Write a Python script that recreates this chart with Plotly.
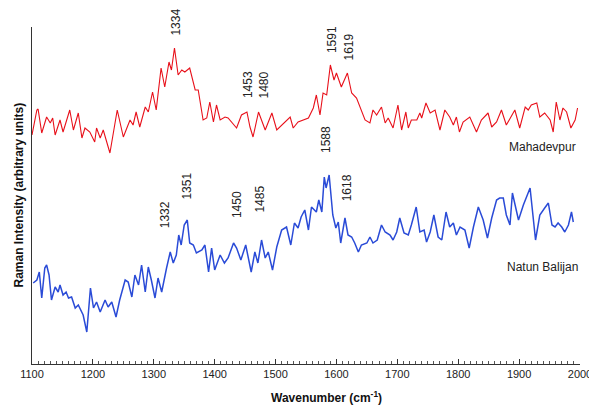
import plotly.graph_objects as go

# ---- Data (intensity in arbitrary units) ----
red_wn = [1100, 1108, 1110, 1116, 1124, 1130, 1134, 1138, 1146, 1151, 1162, 1168, 1176, 1182, 1187,
          1195, 1203, 1206, 1212, 1217, 1228, 1240, 1250, 1261, 1266, 1271, 1277, 1286, 1291, 1298,
          1304, 1312, 1318, 1325, 1329, 1334, 1340, 1346, 1351, 1359, 1368, 1373, 1381, 1387, 1392,
          1398, 1403, 1409, 1417, 1422, 1436, 1444, 1453, 1458, 1463, 1472, 1483, 1494, 1502, 1510,
          1524, 1529, 1537, 1554, 1562, 1567, 1573, 1578, 1584, 1590, 1596, 1600, 1608, 1618, 1625,
          1633, 1639, 1647, 1655, 1660, 1666, 1674, 1680, 1685, 1693, 1701, 1707, 1714, 1718, 1723,
          1732, 1737, 1740, 1747, 1754, 1762, 1770, 1778, 1786, 1792, 1797, 1802, 1808, 1819, 1830,
          1838, 1849, 1855, 1863, 1871, 1879, 1893, 1901, 1910, 1915, 1920, 1929, 1934, 1942, 1951,
          1956, 1961, 1967, 1972, 1978, 1985, 1992, 1996]
red_int = [229, 254, 255, 231, 247, 241, 246, 229, 244, 232, 254, 234, 251, 226, 236,
           232, 222, 236, 226, 234, 211, 254, 227, 244, 239, 252, 237, 257, 252, 272,
           254, 296, 277, 302, 294, 316, 289, 294, 292, 296, 274, 274, 244, 246, 262,
           242, 259, 244, 247, 246, 236, 249, 252, 237, 227, 252, 234, 251, 234, 239,
           247, 236, 242, 246, 256, 269, 249, 271, 269, 299, 284, 291, 277, 291, 271,
           266, 257, 244, 241, 254, 249, 257, 241, 246, 236, 259, 234, 252, 236, 244,
           244, 251, 246, 261, 251, 254, 234, 254, 247, 239, 247, 232, 242, 247, 232,
           244, 251, 237, 242, 254, 239, 254, 236, 257, 254, 259, 261, 247, 251, 244,
           232, 262, 244, 256, 252, 236, 244, 256]

blue_wn = [1102, 1108, 1112, 1116, 1121, 1124, 1128, 1132, 1138, 1143, 1146, 1151, 1156, 1160, 1165,
           1171, 1176, 1184, 1190, 1196, 1201, 1206, 1212, 1220, 1225, 1231, 1238, 1244, 1253, 1258,
           1264, 1269, 1275, 1280, 1286, 1291, 1296, 1302, 1307, 1313, 1321, 1327, 1332, 1337, 1341,
           1345, 1350, 1355, 1359, 1365, 1370, 1379, 1384, 1390, 1395, 1400, 1409, 1416, 1422, 1431,
           1436, 1443, 1451, 1460, 1466, 1471, 1477, 1483, 1488, 1495, 1502, 1510, 1518, 1525, 1531,
           1537, 1542, 1548, 1554, 1559, 1567, 1571, 1576, 1580, 1583, 1588, 1594, 1599, 1603, 1607,
           1614, 1619, 1625, 1630, 1636, 1641, 1650, 1655, 1660, 1667, 1674, 1680, 1688, 1693, 1699,
           1704, 1711, 1718, 1723, 1731, 1737, 1744, 1748, 1754, 1760, 1767, 1773, 1780, 1786, 1792,
           1797, 1803, 1811, 1818, 1825, 1833, 1841, 1848, 1855, 1863, 1868, 1874, 1879, 1885, 1889,
           1899, 1907, 1918, 1927, 1934, 1942, 1948, 1954, 1959, 1964, 1970, 1975, 1981, 1986, 1989]
blue_int = [81, 84, 92, 66, 96, 99, 89, 64, 77, 72, 79, 69, 72, 66, 67,
            56, 59, 49, 32, 76, 56, 62, 52, 64, 57, 62, 47, 64, 84, 82,
            67, 89, 79, 99, 72, 97, 84, 66, 86, 72, 96, 112, 101, 109, 129,
            119, 139, 144, 121, 119, 111, 114, 119, 92, 116, 94, 109, 101, 106, 121,
            116, 104, 119, 92, 112, 101, 124, 106, 112, 94, 117, 134, 137, 119, 141,
            136, 147, 154, 134, 157, 152, 164, 152, 187, 176, 189, 149, 136, 142, 121,
            146, 129, 127, 121, 112, 119, 121, 127, 121, 124, 139, 132, 129, 124, 132,
            146, 131, 129, 139, 157, 132, 134, 122, 132, 149, 127, 124, 152, 137, 141,
            129, 137, 134, 116, 137, 157, 144, 126, 146, 164, 166, 166, 149, 139, 171,
            144, 159, 176, 124, 149, 156, 161, 139, 137, 141, 137, 132, 139, 152, 142]

red_peaks = ["1334", "1453", "1480", "1591", "1619"]
red_peak_x = [1335, 1454, 1481, 1592, 1619]
red_peak_y = [326, 264, 264, 309, 301]
blue_peaks = ["1332", "1351", "1450", "1485", "1588", "1618"]
blue_peak_x = [1318, 1353, 1436, 1473, 1582, 1617]
blue_peak_y = [134, 162, 144, 149, 209, 161]

series_names = ["Mahadevpur", "Natun Balijan"]
x_ticks = [1100, 1200, 1300, 1400, 1500, 1600, 1700, 1800, 1900, 2000]

FONT = "Liberation Sans, Arial, sans-serif"

W, H = 589, 406
ml, mr, mt, mb = 32, 9, 27, 42
pw, ph = W - ml - mr, H - mt - mb

fig = go.Figure()
fig.add_trace(go.Scatter(x=red_wn, y=red_int, mode="lines",
                         line=dict(color="#e8101a", width=1.1), name=series_names[0]))
fig.add_trace(go.Scatter(x=blue_wn, y=blue_int, mode="lines",
                         line=dict(color="#2a4bd7", width=1.5), name=series_names[1]))

annotations = []
for t, x, y in zip(red_peaks, red_peak_x, red_peak_y):
    annotations.append(dict(x=x, y=y, xref="x", yref="y", text=t, showarrow=False,
                            textangle=-90, xanchor="center", yanchor="bottom",
                            font=dict(family=FONT, size=12, color="#222")))
for t, x, y in zip(blue_peaks, blue_peak_x, blue_peak_y):
    annotations.append(dict(x=x, y=y, xref="x", yref="y", text=t, showarrow=False,
                            textangle=-90, xanchor="center", yanchor="bottom",
                            font=dict(family=FONT, size=12, color="#222")))
annotations.append(dict(x=1997, y=217, xref="x", yref="y", text=series_names[0], showarrow=False,
                        xanchor="right", yanchor="middle", font=dict(family=FONT, size=12, color="#222")))
annotations.append(dict(x=2000, y=97, xref="x", yref="y", text=series_names[1], showarrow=False,
                        xanchor="right", yanchor="middle", font=dict(family=FONT, size=12, color="#222")))
# axis titles (placed in paper coordinates)
annotations.append(dict(x=(326 - ml) / pw, y=-(397 - (H - mb)) / ph, xref="paper", yref="paper",
                        text="<b>Wavenumber (cm<sup>-1</sup>)</b>",
                        showarrow=False, xanchor="center", yanchor="middle",
                        font=dict(family=FONT, size=12, color="#111")))
annotations.append(dict(x=(18 - ml) / pw, y=0.5, xref="paper", yref="paper",
                        text="<b>Raman Intensity (arbitrary units)</b>", showarrow=False, textangle=-90,
                        xanchor="center", yanchor="middle", font=dict(family=FONT, size=12, color="#111")))

fig.update_layout(
    width=W, height=H,
    margin=dict(l=ml, r=mr, t=mt, b=mb, autoexpand=False),
    paper_bgcolor="white", plot_bgcolor="white",
    showlegend=False,
    font=dict(family=FONT, size=11, color="#222"),
    annotations=annotations,
)
fig.update_xaxes(range=[1100, 2000], tickvals=x_ticks, ticks="inside", ticklen=5, tickcolor="#333",
                 showline=True, linecolor="#333", linewidth=1, showgrid=False, zeroline=False,
                 ticklabeloverflow="allow", automargin=False,
                 tickfont=dict(family=FONT, size=11, color="#222"),
                 minor=dict(dtick=10, ticks="inside", ticklen=3, tickcolor="#555", showgrid=False))
fig.update_yaxes(range=[0, 337], showline=True, linecolor="#333", linewidth=1, showticklabels=False,
                 ticks="", showgrid=False, zeroline=False, automargin=False)

fig.write_html("out.html", config={"displayModeBar": False},
               post_script="document.body.style.margin='0';document.body.style.padding='0';")
